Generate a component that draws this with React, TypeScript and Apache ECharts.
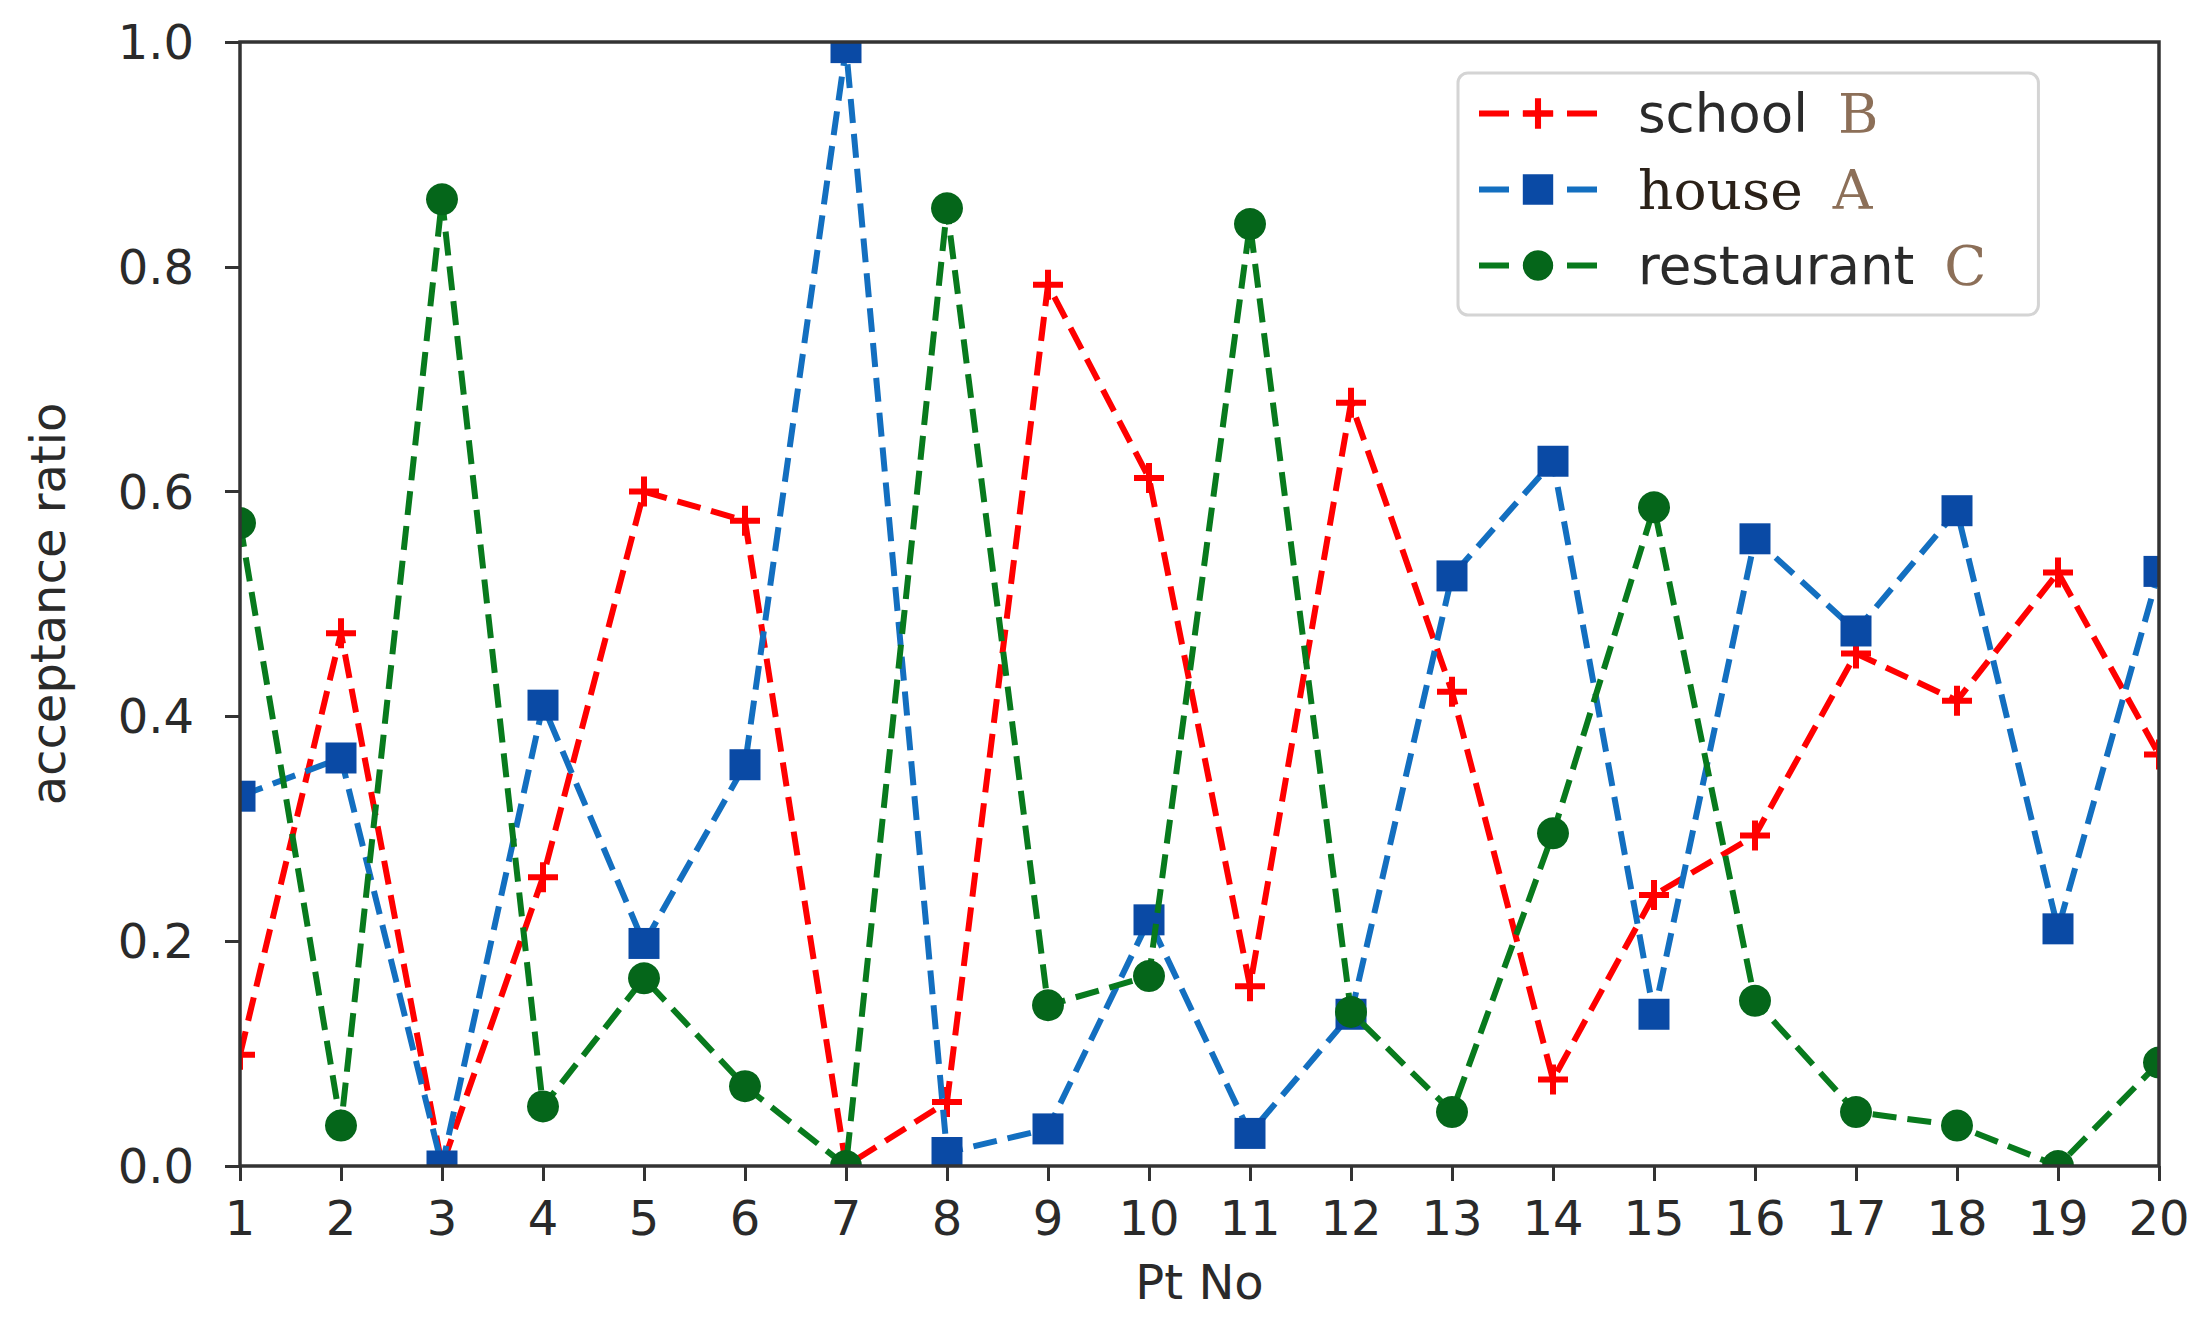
import React, { useEffect, useRef } from "react";
import * as echarts from "echarts";

const W = 2205;
const H = 1332;

const pts = [1, 2, 3, 4, 5, 6, 7, 8, 9, 10, 11, 12, 13, 14, 15, 16, 17, 18, 19, 20];
const schoolB = [0.099, 0.474, 0.0, 0.257, 0.6, 0.574, 0.0, 0.057, 0.784, 0.612, 0.16, 0.679, 0.422, 0.077, 0.241, 0.294, 0.456, 0.414, 0.528, 0.366];
const houseA = [0.329, 0.363, 0.0, 0.41, 0.198, 0.357, 0.995, 0.012, 0.033, 0.219, 0.029, 0.135, 0.525, 0.627, 0.135, 0.558, 0.476, 0.583, 0.211, 0.529];
const restaurantC = [0.572, 0.036, 0.86, 0.053, 0.167, 0.071, 0.0, 0.852, 0.143, 0.169, 0.838, 0.137, 0.048, 0.296, 0.586, 0.147, 0.048, 0.036, 0.0, 0.092];
const yTicks = [0, 0.2, 0.4, 0.6, 0.8, 1.0];

const seriesNames = ["school B", "house A", "restaurant C"];

const PLUS = "path://M12,0 H18 V12 H30 V18 H18 V30 H12 V18 H0 V12 H12 Z";

const G = { left: 240, right: 46, top: 42, bottom: 166 };

export default function App() {
  const ref = useRef<HTMLDivElement>(null);
  useEffect(() => {
    if (!ref.current) return;
    const chart = echarts.init(ref.current, undefined, { renderer: "svg" });
    const pw = W - G.left - G.right;
    const ph = H - G.top - G.bottom;
    const mask = (x: number, y: number, w: number, h: number) => ({
      type: "rect",
      z: 100,
      silent: true,
      shape: { x, y, width: w, height: h },
      style: { fill: "#ffffff" },
    });
    const dash = [24, 11];
    const mk = (vals: number[]) => pts.map((p, i) => [p, vals[i]]);
    const option: any = {
      animation: false,
      backgroundColor: "#ffffff",
      grid: { left: G.left, right: G.right, top: G.top, bottom: G.bottom, show: false },
      xAxis: {
        type: "value",
        min: 1,
        max: 20,
        interval: 1,
        z: 200,
        name: "Pt No",
        nameLocation: "middle",
        nameGap: 92,
        nameTextStyle: { fontFamily: "DejaVu Sans", fontSize: 48, color: "#2a2a2a" },
        axisLine: { show: false },
        axisTick: { show: true, length: 15, lineStyle: { color: "#333", width: 3 } },
        axisLabel: { fontFamily: "DejaVu Sans", fontSize: 48, color: "#2a2a2a", margin: 28 },
        splitLine: { show: false },
      },
      yAxis: {
        type: "value",
        min: 0,
        max: 1,
        interval: 0.2,
        z: 200,
        name: "acceptance ratio",
        nameLocation: "middle",
        nameGap: 168,
        nameRotate: 90,
        nameTextStyle: { fontFamily: "DejaVu Sans", fontSize: 48, color: "#2a2a2a" },
        axisLine: { show: false },
        axisTick: { show: true, length: 15, lineStyle: { color: "#333", width: 3 } },
        axisLabel: {
          fontFamily: "DejaVu Sans",
          fontSize: 48,
          color: "#2a2a2a",
          margin: 46,
          formatter: (v: number) => (yTicks.some((t) => Math.abs(t - v) < 1e-9) ? v.toFixed(1) : ""),
        },
        splitLine: { show: false },
      },
      legend: {
        show: true,
        orient: "vertical",
        left: 1458,
        top: 73,
        z: 200,
        data: seriesNames,
        itemWidth: 118,
        itemHeight: 38,
        itemGap: 21,
        padding: [13, 52, 22, 18],
        backgroundColor: "#ffffff",
        borderColor: "#d4d4d4",
        borderWidth: 3,
        borderRadius: 10,
        lineStyle: { type: [30, 14], width: 6 },
        formatter: (name: string) => {
          const parts = name.split(" ");
          const word = parts[0];
          const letter = parts[1];
          const wStyle = word === "house" ? "h" : "s";
          return "{" + wStyle + "|" + word + "}{m|" + letter + "}";
        },
        textStyle: {
          rich: {
            s: { fontFamily: "DejaVu Sans", fontSize: 53, color: "#2a2a2a", lineHeight: 40, padding: [0, 0, 0, 36] },
            h: { fontFamily: "DejaVu Serif", fontSize: 55, color: "#2b2118", lineHeight: 40, padding: [0, 0, 0, 36] },
            m: { fontFamily: "DejaVu Serif", fontSize: 55, color: "#8c6f58", lineHeight: 40, padding: [0, 0, 0, 30] },
          },
        },
      },
      series: [
        {
          name: seriesNames[0],
          type: "line",
          data: mk(schoolB),
          symbol: PLUS,
          symbolSize: 30,
          lineStyle: { color: "#ff0000", width: 6, type: dash },
          itemStyle: { color: "#ff0000" },
          z: 3,
        },
        {
          name: seriesNames[1],
          type: "line",
          data: mk(houseA),
          symbol: "rect",
          symbolSize: 31,
          lineStyle: { color: "#136fc0", width: 6, type: dash },
          itemStyle: { color: "#0a4aa5" },
          z: 4,
        },
        {
          name: seriesNames[2],
          type: "line",
          data: mk(restaurantC),
          symbol: "circle",
          symbolSize: 32,
          lineStyle: { color: "#087a1d", width: 6, type: dash },
          itemStyle: { color: "#05661a" },
          z: 5,
        },
      ],
      graphic: [
        mask(0, 0, W, G.top),
        mask(0, H - G.bottom, W, G.bottom),
        mask(0, 0, G.left, H),
        mask(W - G.right, 0, G.right, H),
        {
          type: "rect",
          z: 150,
          silent: true,
          shape: { x: G.left, y: G.top, width: pw, height: ph },
          style: { fill: "none", stroke: "#333333", lineWidth: 3.5 },
        },
      ],
    };
    chart.setOption(option);
    return () => chart.dispose();
  }, []);
  return (
    <div
      ref={ref}
      style={{ position: "absolute", left: 0, top: 0, width: W, height: H, background: "#fff" }}
    />
  );
}
